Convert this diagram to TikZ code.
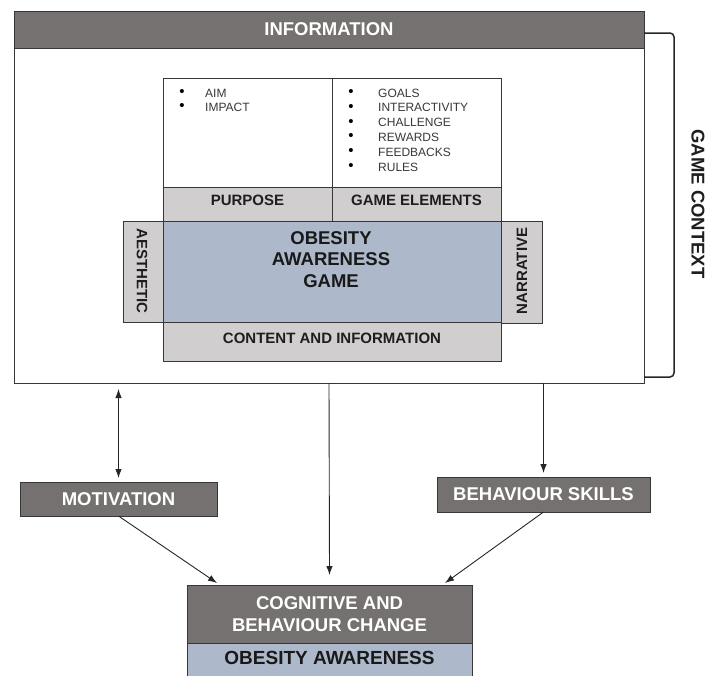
\documentclass[tikz,border=0pt]{standalone}
\usepackage{fontspec}
\setmainfont{Liberation Sans}
\usetikzlibrary{arrows.meta,calc}
\definecolor{hdr}{RGB}{118,113,113}
\definecolor{band}{RGB}{208,206,206}
\definecolor{bluebox}{RGB}{173,185,202}
\definecolor{edge}{RGB}{55,55,55}
\definecolor{txt}{RGB}{30,30,30}
\begin{document}
\begin{tikzpicture}[x=1pt,y=-1pt,
 box/.style={draw=edge,line width=1pt,inner sep=0pt,outer sep=0pt,anchor=north west,align=center},
 dark/.style={box,fill=hdr,text=white,font=\bfseries\fontsize{18.5}{21.5}\selectfont},
 grayb/.style={box,fill=band,text=txt,font=\bfseries\fontsize{15}{18}\selectfont},
 whiteb/.style={box,fill=white},
 lbl/.style={inner sep=0pt,text=txt,align=center,font=\bfseries\fontsize{15}{18}\selectfont},
 biglbl/.style={inner sep=0pt,text=txt,align=center,font=\bfseries\fontsize{18.5}{21.5}\selectfont},
 item/.style={inner sep=0pt,anchor=west,text=black!78,font=\fontsize{12}{14}\selectfont},
 bul/.style={inner sep=0pt,text=black,font=\fontsize{15}{14}\selectfont},
 conn/.style={draw=black!85,line width=0.9pt},
 arr/.style={conn,-{Latex[length=9pt,width=6.5pt]}},
 darr/.style={conn,{Latex[length=9pt,width=6.5pt]}-{Latex[length=9pt,width=6.5pt]}}]
\useasboundingbox (0,0) rectangle (708,675);
\clip (0,0) rectangle (708,675);
% outer frame
\node[whiteb,minimum width=630pt,minimum height=372pt] (frame) at (14,11) {};
\node[dark,minimum width=630pt,minimum height=37pt] (info) at (14,11) {INFORMATION};
% bracket and game context
\draw[line width=1.5pt,rounded corners=4pt,black!85]
  ($(frame.north east)+(0,22)$) -- ($(frame.north east)+(30,22)$)
  -- ($(frame.south east)+(30,-6)$) -- ($(frame.south east)+(0,-6)$);
\node[biglbl,rotate=-90] (gc) at (698,204) {GAME CONTEXT};
% table
\node[whiteb,minimum width=169pt,minimum height=109pt] (purp) at (163,78) {};
\node[whiteb,minimum width=169pt,minimum height=109pt] (gel) at (332,78) {};
\node[grayb,minimum width=169pt,minimum height=34pt] (purpose) at (163,187) {};
\node[grayb,minimum width=169pt,minimum height=34pt] (gamel) at (332,187) {};
\node[lbl] (purposet) at (247.5,200.5) {PURPOSE};
\node[lbl] (gamelt) at (416.5,200.5) {GAME ELEMENTS};
% bullets
\node[bul] (pb1) at (182,93) {•};
\node[item] (pt1) at (205,93) {AIM};
\node[bul] (pb2) at (182,107) {•};
\node[item] (pt2) at (205,107) {IMPACT};
\foreach \t [count=\i] in {GOALS,INTERACTIVITY,CHALLENGE,REWARDS,FEEDBACKS,RULES}{
  \node[bul] (gb\i) at (351,{93+14.8*(\i-1)}) {•};
  \node[item] (gt\i) at (378,{93+14.8*(\i-1)}) {\t};
}
% game box
\node[box,fill=band,minimum width=40pt,minimum height=101pt] (aes) at (123,221) {};
\node[box,fill=band,minimum width=41pt,minimum height=102pt] (nar) at (501,221) {};
\node[box,fill=bluebox,minimum width=338pt,minimum height=101pt] (game) at (163,221) {};
\node[grayb,minimum width=338pt,minimum height=39pt] (content) at (163,322) {};
\node[lbl,rotate=-90] (aest) at (142,271) {AESTHETIC};
\node[lbl,rotate=90] (nart) at (522,271) {NARRATIVE};
\node[biglbl,text=black!90] (gamet) at (331,259.5) {OBESITY\\AWARENESS\\GAME};
\node[lbl] (contentt) at (332,338) {CONTENT AND INFORMATION};
% lower boxes
\node[dark,minimum width=197pt,minimum height=34pt] (mot) at (20,482) {MOTIVATION};
\node[dark,minimum width=213pt,minimum height=35pt] (beh) at (437,477) {BEHAVIOUR SKILLS};
\node[dark,minimum width=285pt,minimum height=58pt] (cog) at (187,585) {COGNITIVE AND\\BEHAVIOUR CHANGE};
\node[box,fill=bluebox,minimum width=285pt,minimum height=40pt] (oa) at (187,643) {};
\node[biglbl,text=black!90,font=\bfseries\fontsize{19}{22}\selectfont] (oat) at (329.5,658) {OBESITY AWARENESS};
% connectors
\draw[darr] ([yshift=-6pt]frame.south -| mot.north) -- ([yshift=4pt]mot.north);
\draw[arr] (frame.south) -- ([yshift=10pt]cog.north);
\draw[arr] (frame.south -| beh.north) -- ([yshift=4pt]beh.north);
\draw[arr] (mot.south) -- ([xshift=30pt,yshift=2pt]cog.north west);
\draw[arr] (beh.south) -- ([xshift=-27pt,yshift=2pt]cog.north east);
\end{tikzpicture}
\end{document}
